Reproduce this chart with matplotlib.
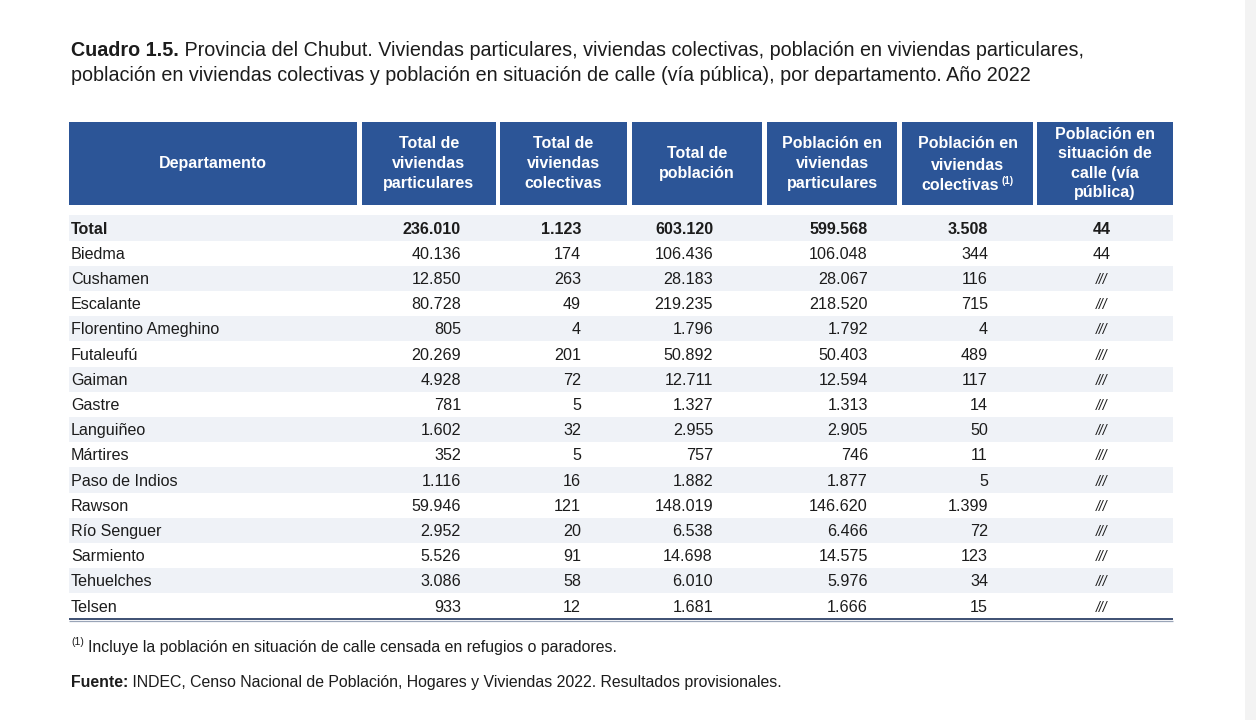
import matplotlib
matplotlib.use("Agg")
import matplotlib.pyplot as plt
from matplotlib.patches import Rectangle

# ---------------- data ----------------
departamentos = ["Total", "Biedma", "Cushamen", "Escalante", "Florentino Ameghino",
                 "Futaleufú", "Gaiman", "Gastre", "Languiñeo", "Mártires",
                 "Paso de Indios", "Rawson", "Río Senguer", "Sarmiento",
                 "Tehuelches", "Telsen"]
viviendas_particulares = [236010, 40136, 12850, 80728, 805, 20269, 4928, 781,
                          1602, 352, 1116, 59946, 2952, 5526, 3086, 933]
viviendas_colectivas = [1123, 174, 263, 49, 4, 201, 72, 5, 32, 5, 16, 121, 20,
                        91, 58, 12]
poblacion_total = [603120, 106436, 28183, 219235, 1796, 50892, 12711, 1327,
                   2955, 757, 1882, 148019, 6538, 14698, 6010, 1681]
poblacion_particulares = [599568, 106048, 28067, 218520, 1792, 50403, 12594,
                          1313, 2905, 746, 1877, 146620, 6466, 14575, 5976, 1666]
poblacion_colectivas = [3508, 344, 116, 715, 4, 489, 117, 14, 50, 11, 5, 1399,
                        72, 123, 34, 15]
poblacion_calle = [44, 44, None, None, None, None, None, None, None, None, None,
                   None, None, None, None, None]

headers = ["Departamento",
           "Total de\nviviendas\nparticulares",
           "Total de\nviviendas\ncolectivas",
           "Total de\npoblación",
           "Población en\nviviendas\nparticulares",
           "Población en\nviviendas\ncolectivas",
           "Población en\nsituación de\ncalle (vía\npública)"]

title_bold = "Cuadro 1.5."
title_line1 = " Provincia del Chubut. Viviendas particulares, viviendas colectivas, población en viviendas particulares,"
title_line2 = "población en viviendas colectivas y población en situación de calle (vía pública), por departamento. Año 2022"
nota = "Incluye la población en situación de calle censada en refugios o paradores."
fuente_bold = "Fuente:"
fuente = " INDEC, Censo Nacional de Población, Hogares y Viviendas 2022. Resultados provisionales."

# ---------------- style ----------------
FONT = "Liberation Sans"
BLUE = "#2c5597"
SHADE = "#eff2f7"
TXT = "#1c1c1c"
TITLE_FS = 14.2
HEAD_FS = 11.5
BODY_FS = 11.6
NOTE_FS = 11.4

plt.rcParams["font.family"] = [FONT, "DejaVu Sans"]

W, H = 1256, 720
fig = plt.figure(figsize=(W / 100, H / 100), dpi=100)
fig.patch.set_facecolor("white")
ax = fig.add_axes([0, 0, 1, 1])
ax.set_xlim(0, W)
ax.set_ylim(H, 0)
ax.axis("off")

# right page strip
ax.add_patch(Rectangle((1245, 0), W - 1245, H, color="#f3f3f3", lw=0))

renderer = fig.canvas.get_renderer()


def text_width(s, size, weight="normal"):
    t = ax.text(0, 0, s, fontsize=size, fontweight=weight)
    w = t.get_window_extent(renderer=renderer).width
    t.remove()
    return w


def inline(parts, x, y, size, color=TXT):
    cx = x
    for txt, weight in parts:
        ax.text(cx, y, txt, fontsize=size, fontweight=weight,
                color=color, ha="left", va="baseline")
        cx += text_width(txt, size, weight)
    return cx


# title
inline([(title_bold, "bold"), (title_line1, "normal")], 71, 56, TITLE_FS)
inline([(title_line2, "normal")], 71, 81, TITLE_FS)

# header
col_left = [69, 362, 500, 632, 767, 902, 1037]
col_right = [357, 496, 627, 762, 897, 1033, 1173]
head_top, head_bot = 122, 205
for i, h in enumerate(headers):
    ax.add_patch(Rectangle((col_left[i], head_top), col_right[i] - col_left[i],
                           head_bot - head_top, color=BLUE, lw=0))
    cx = (col_left[i] + col_right[i]) / 2
    cy = (head_top + head_bot) / 2
    if i == 5:
        lines = h.split("\n")
        n = len(lines)
        step = 21
        y0 = cy - step * (n - 1) / 2
        for k, ln in enumerate(lines):
            if k < n - 1:
                ax.text(cx, y0 + k * step, ln, fontsize=HEAD_FS, fontweight="bold",
                        color="white", ha="center", va="center_baseline")
            else:
                w1 = text_width(ln, HEAD_FS, "bold")
                w2 = text_width("(1)", 7, "bold")
                total = w1 + 3 + w2
                sx = cx - total / 2
                ax.text(sx, y0 + k * step, ln, fontsize=HEAD_FS, fontweight="bold",
                        color="white", ha="left", va="center_baseline")
                ax.text(sx + w1 + 3, y0 + k * step - 5, "(1)", fontsize=7,
                        fontweight="bold", color="white", ha="left",
                        va="center_baseline")
    else:
        ax.text(cx, cy, h, fontsize=HEAD_FS, fontweight="bold", color="white",
                ha="center", va="center", linespacing=1.38,
                multialignment="center")

# body
row0, step = 228, 25.2
anchors = [461, 581, 713, 868, 988]
calle_x = 1102


def fmt(v):
    return "///" if v is None else f"{v:,}".replace(",", ".")


columns = [viviendas_particulares, viviendas_colectivas, poblacion_total,
           poblacion_particulares, poblacion_colectivas]
for r, dep in enumerate(departamentos):
    y = row0 + r * step
    if r % 2 == 0:
        ax.add_patch(Rectangle((69, y - step / 2), 1173 - 69, step,
                               color=SHADE, lw=0, zorder=0))
    wt = "bold" if r == 0 else "normal"
    ax.text(71, y + 5.5, dep, fontsize=BODY_FS, fontweight=wt, color=TXT,
            ha="left", va="baseline")
    for c, col in enumerate(columns):
        ax.text(anchors[c], y + 5.5, fmt(col[r]), fontsize=BODY_FS, fontweight=wt,
                color=TXT, ha="right", va="baseline")
    v = poblacion_calle[r]
    ax.text(calle_x, y + 5.5, fmt(v), fontsize=BODY_FS if v is not None else 10,
            fontweight=wt, color=TXT, ha="center", va="baseline",
            style="normal" if v is not None else "italic")

# bottom rule
last = row0 + (len(departamentos) - 1) * step + step / 2
ax.plot([69, 1173], [last + 0.5, last + 0.5], color="#3d4f72", lw=1.4,
        solid_capstyle="butt")
ax.plot([69, 1173], [last + 2.2, last + 2.2], color="#9aa5b8", lw=0.9,
        solid_capstyle="butt")

# footnote
ax.text(71, 645, "(1)", fontsize=7.5, color=TXT, ha="left", va="baseline")
ax.text(88, 652, nota, fontsize=NOTE_FS, color=TXT, ha="left", va="baseline")
inline([(fuente_bold, "bold"), (fuente, "normal")], 71, 687, NOTE_FS)

fig.savefig("out.png", dpi=100, facecolor="white")
